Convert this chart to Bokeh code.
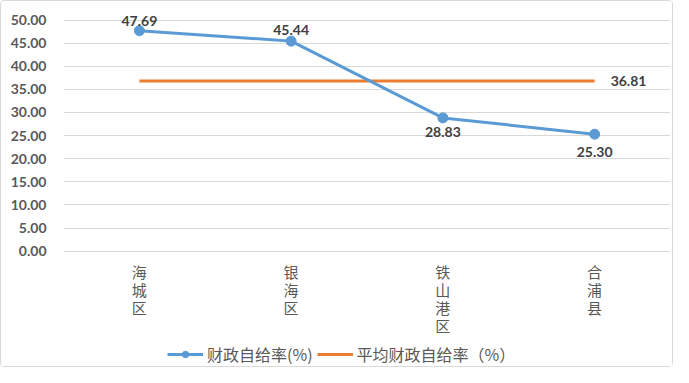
from bokeh.plotting import figure
from bokeh.models import (ColumnDataSource, LabelSet, Legend, LegendItem,
                          FixedTicker, NumeralTickFormatter, Range1d, FactorRange)
from bokeh.core.properties import value
from bokeh.embed import file_html
from bokeh.resources import INLINE

categories = ["海城区", "银海区", "铁山港区", "合浦县"]
rates = [47.69, 45.44, 28.83, 25.30]
avg_rate = 36.81
y_ticks = [0, 5, 10, 15, 20, 25, 30, 35, 40, 45, 50]
series_names = ["财政自给率(%)", "平均财政自给率（%）"]

x_factors = list(categories)

BLUE = "#5B9BD5"
ORANGE = "#ED7D31"
NUM_FONT = "Lato"
CJK_FONT = "Noto Sans CJK SC"

p = figure(width=673, height=367,
           x_range=FactorRange(*x_factors, range_padding=0),
           y_range=Range1d(-25.4, 52.5),
           x_axis_location=None,
           output_backend="svg", toolbar_location=None,
           min_border_left=62, min_border_right=4,
           min_border_top=7, min_border_bottom=0)
p.styles = {"border": "1px solid #D9D9D9", "border-radius": "4px"}
p.outline_line_color = None
p.background_fill_color = "white"

# y axis
p.yaxis.ticker = FixedTicker(ticks=y_ticks)
p.yaxis.formatter = NumeralTickFormatter(format="0.00")
p.yaxis.axis_line_color = None
p.yaxis.major_tick_line_color = None
p.yaxis.minor_tick_line_color = None
p.yaxis.major_label_text_font = NUM_FONT
p.yaxis.major_label_text_font_style = "bold"
p.yaxis.major_label_text_font_size = "14px"
p.yaxis.major_label_text_color = "#595959"
p.yaxis.major_label_standoff = 11

p.xgrid.grid_line_color = None
p.ygrid.grid_line_color = "#D9D9D9"
p.ygrid.grid_line_width = 1

# category labels (stacked vertically, one character per line)
cat_src = ColumnDataSource(dict(
    x=x_factors, y=[0] * len(categories),
    lbl=["\n".join(c) for c in categories],
))
cat_labels = LabelSet(x="x", y="y", text="lbl", source=cat_src, y_offset=-10,
                      text_align="center", text_baseline="top",
                      text_font=value(CJK_FONT), text_font_size="15px",
                      text_color="#595959", text_line_height=0.85)
p.add_layout(cat_labels)

# series
src = ColumnDataSource(dict(
    x=x_factors, y=rates, avg=[avg_rate] * len(categories),
    lbl=["%.2f" % v for v in rates],
    yoff=[10, 11, -14, -18],
))

avg_line = p.line("x", "avg", source=src, line_color=ORANGE, line_width=3)
blue_line = p.line("x", "y", source=src, line_color=BLUE, line_width=3)
blue_pts = p.scatter("x", "y", source=src, size=10, fill_color=BLUE, line_color=BLUE)

labels = LabelSet(x="x", y="y", text="lbl", source=src, y_offset="yoff",
                  text_align="center", text_baseline="middle",
                  text_font=value(NUM_FONT), text_font_style="bold",
                  text_font_size="14px", text_color="#404040")
p.add_layout(labels)

avg_src = ColumnDataSource(dict(x=[x_factors[-1]], y=[avg_rate], lbl=["%.2f" % avg_rate]))
avg_label = LabelSet(x="x", y="y", text="lbl", source=avg_src,
                     x_offset=16, text_align="left", text_baseline="middle",
                     text_font=value(NUM_FONT), text_font_style="bold",
                     text_font_size="14px", text_color="#404040")
p.add_layout(avg_label)

legend = Legend(items=[
    LegendItem(label=series_names[0], renderers=[blue_line, blue_pts]),
    LegendItem(label=series_names[1], renderers=[avg_line]),
], orientation="horizontal", location=(104, 2))
legend.border_line_color = None
legend.background_fill_alpha = 0
legend.label_text_font = CJK_FONT
legend.label_text_font_size = "16px"
legend.label_text_color = "#595959"
legend.glyph_width = 36
legend.glyph_height = 16
legend.spacing = 4
legend.padding = 0
legend.margin = 0
legend.label_standoff = 4
p.add_layout(legend)

open("out.html", "w").write(file_html(p, INLINE))
